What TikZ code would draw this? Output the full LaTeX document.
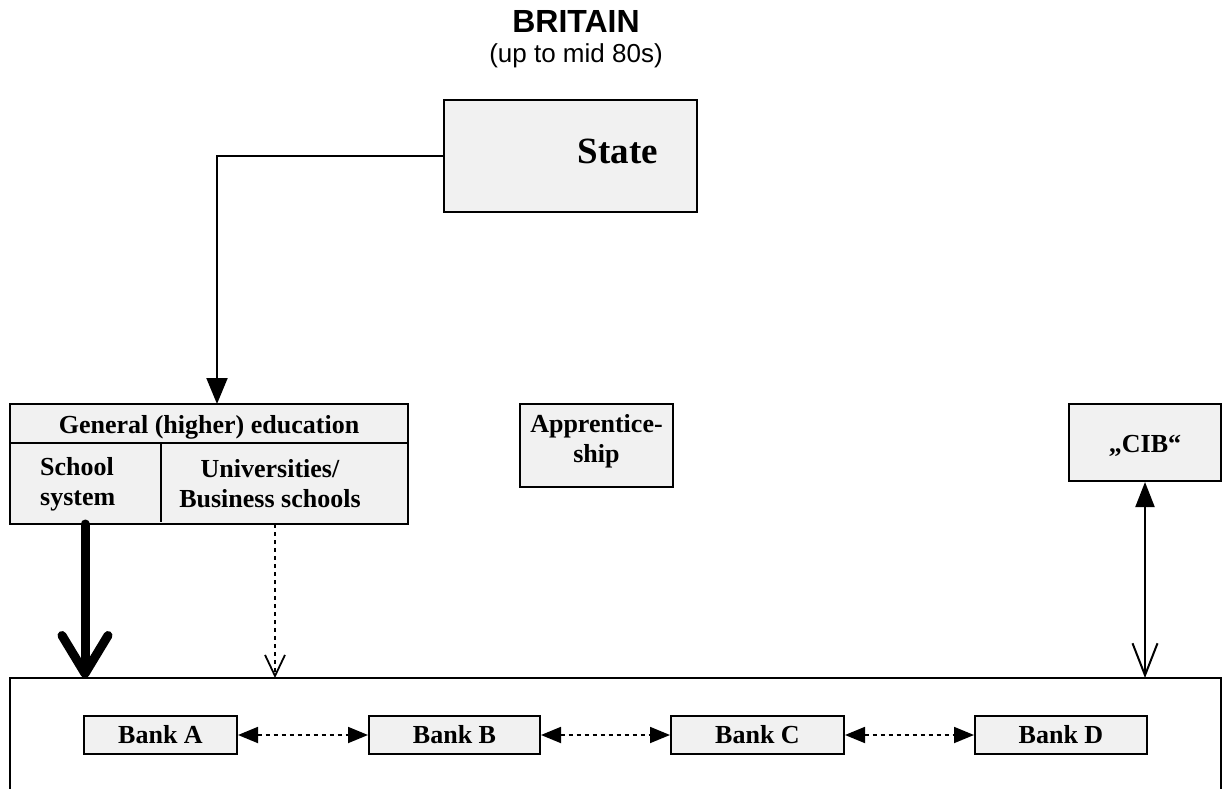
\documentclass[tikz,border=0pt]{standalone}
\usepackage{fontspec}
\setmainfont{Liberation Serif}
\newfontfamily\arialfont{Liberation Sans}
\usetikzlibrary{arrows.meta}
\definecolor{boxgray}{RGB}{241,241,241}
\tikzset{
  gbox/.style={draw=black, line width=2pt, fill=boxgray, inner sep=0pt},
  btext/.style={font=\fontsize{26}{30}\selectfont\bfseries, align=center, inner sep=0pt},
  conn/.style={line width=2pt, draw=black},
  dotline/.style={line width=1.8pt, dash pattern=on 4pt off 4pt},
  fulltip/.tip={Triangle[length=26pt,width=21pt]},
  smalltip/.tip={Triangle[length=20pt,width=16pt]},
}
\begin{document}
\begin{tikzpicture}[x=1pt,y=-1pt]
\useasboundingbox (0,0) rectangle (1231,789);
\clip (0,0) rectangle (1231,789);
% title
\node[anchor=base, font=\arialfont\bfseries\fontsize{32}{36}\selectfont, inner sep=0pt] (title) at (576,33) {BRITAIN};
\node[anchor=base, font=\arialfont\fontsize{26}{30}\selectfont, inner sep=0pt] (subtitle) at (576,63) {(up to mid 80s)};
% State
\node[gbox, minimum width=253pt, minimum height=112pt] (state) at (570.5,156) {};
\node[btext, font=\fontsize{37}{40}\selectfont\bfseries, anchor=base] (statetxt) at (618,163) {State};
% education
\node[gbox, minimum width=398pt, minimum height=120pt] (edu) at (209,464) {};
\coordinate (eduL) at (10,443);
\coordinate (eduR) at (408,443);
\coordinate (eduM) at (161,443);
\coordinate (eduB) at (161,522);
\draw[line width=2pt] (eduL) -- (eduR);
\draw[line width=2pt] (eduM) -- (eduB);
\node[btext, anchor=base] (gen) at (209,433) {General (higher) education};
\node[btext, align=left, anchor=west] (school) at (40,484) {School\\system};
\node[btext, anchor=center] (univ) at (270,484) {Universities/\\Business schools};
% apprenticeship
\node[gbox, minimum width=153pt, minimum height=83pt] (appr) at (596.5,445.5) {};
\node[btext, anchor=center] (apprtxt) at (596.5,441) {Apprentice-\\ship};
% CIB
\node[gbox, minimum width=152pt, minimum height=77pt] (cib) at (1145,442.5) {};
\node[btext, anchor=base] (cibtxt) at (1145,452) {„CIB“};
% big box
\draw[line width=2.4pt, fill=white] (10,678) rectangle (1221,820);
\coordinate (bigA) at (85,678);
\coordinate (bigB) at (275,678);
\coordinate (bigC) at (1145,678);
\coordinate (eduA) at (85,524);
\coordinate (eduU) at (275,524);
\coordinate (eduT) at (217,404);
% banks
\node[gbox, minimum width=153pt, minimum height=38pt] (bankA) at (160.5,735) {};
\node[btext] at (bankA) {Bank A};
\node[gbox, minimum width=171pt, minimum height=38pt] (bankB) at (454.5,735) {};
\node[btext] at (bankB) {Bank B};
\node[gbox, minimum width=173pt, minimum height=38pt] (bankC) at (757.5,735) {};
\node[btext] at (bankC) {Bank C};
\node[gbox, minimum width=172pt, minimum height=38pt] (bankD) at (1061,735) {};
\node[btext] at (bankD) {Bank D};
% connectors
\draw[conn, -fulltip] (state.west) -| (eduT);
\draw[line width=9pt, line cap=round, -{Straight Barb[length=38pt,width=46pt,round]}] (eduA) -- (bigA);
\draw[dotline, -{Straight Barb[length=21pt,width=20pt]}] (eduU) -- (bigB);
\draw[conn, {Triangle[length=25pt,width=19pt]}-{Straight Barb[length=32pt,width=25pt]}] (cib.south) -- (bigC);
\draw[dotline, smalltip-smalltip] (bankA.east) -- (bankB.west);
\draw[dotline, smalltip-smalltip] (bankB.east) -- (bankC.west);
\draw[dotline, smalltip-smalltip] (bankC.east) -- (bankD.west);
\end{tikzpicture}
\end{document}
